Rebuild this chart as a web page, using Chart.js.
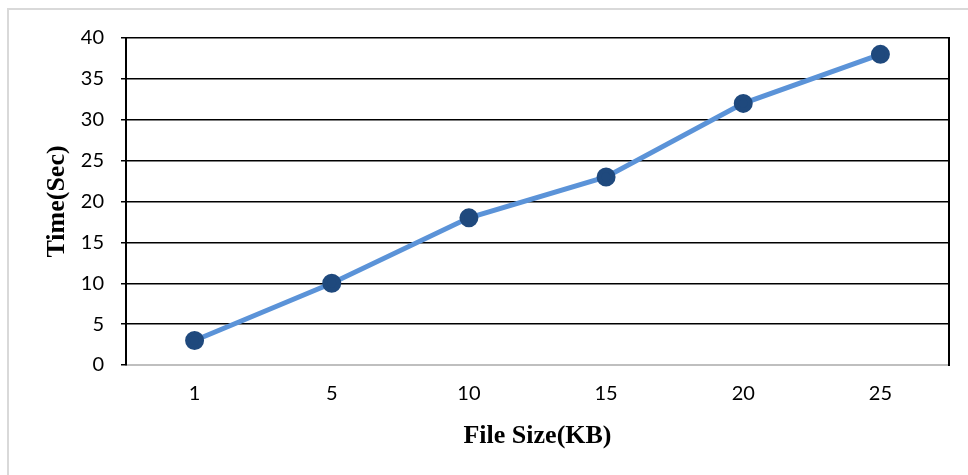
<!DOCTYPE html>
<html>
<head>
<meta charset="utf-8"/>
<title>File Size vs Time</title>
<script src="https://cdn.jsdelivr.net/npm/chart.js"></script>
<style>
  body { margin: 0; background: #fff; overflow: hidden; }
  .wrap { position: relative; width: 968px; height: 475px; }
  .frame {
    position: absolute; left: 7px; top: 8px; width: 980px; height: 480px;
    border-left: 2px solid #d9d9d9; border-top: 2px solid #d9d9d9;
  }
  canvas { position: absolute; left: 0; top: 0; }
</style>
</head>
<body>
<div class="wrap">
  <div class="frame"></div>
  <canvas id="grafik" width="968" height="475"></canvas>
</div>
<script>
const fileSizes = ["1", "5", "10", "15", "20", "25"];
const times = [3, 10, 18, 23, 32, 38];

const tickFont = { family: "Lato, 'Open Sans', sans-serif", size: 20 };
const titleFont = { family: "'Liberation Serif', 'Times New Roman', serif", size: 26, weight: "bold" };

new Chart(document.getElementById("grafik"), {
  type: "line",
  data: {
    labels: fileSizes,
    datasets: [{
      data: times,
      borderColor: "#5b93d8",
      borderWidth: 5,
      pointBackgroundColor: "#1f497d",
      pointBorderColor: "#1f497d",
      pointRadius: 7,
      tension: 0
    }]
  },
  options: {
    responsive: false,
    animation: false,
    layout: { padding: { top: 38, right: 19, left: 0, bottom: 0 } },
    plugins: { legend: { display: false }, tooltip: { enabled: false } },
    scales: {
      x: {
        offset: true,
        grid: { display: false, drawTicks: false },
        border: { color: "#bfbfbf", width: 2 },
        ticks: { color: "#000", font: tickFont, padding: 17 },
        title: { display: true, text: "File Size(KB)", color: "#000", font: titleFont, padding: { top: 0, bottom: 23 } },
        afterFit: s => { s.height = 110; }
      },
      y: {
        min: 0, max: 40,
        grid: { color: "#000", lineWidth: 1.5, tickLength: 5 },
        border: { color: "#000", width: 2 },
        ticks: { stepSize: 5, color: "#000", font: tickFont, padding: 17 },
        title: { display: true, text: "Time(Sec)", color: "#000", font: titleFont, padding: { top: 42, bottom: 0 } },
        afterFit: s => { s.width = 126; }
      },
      y2: {
        position: "right",
        min: 0, max: 40,
        grid: { display: false },
        border: { color: "#000", width: 2 },
        ticks: { display: false },
        afterFit: s => { s.width = 0; }
      }
    }
  }
});
</script>
</body>
</html>
